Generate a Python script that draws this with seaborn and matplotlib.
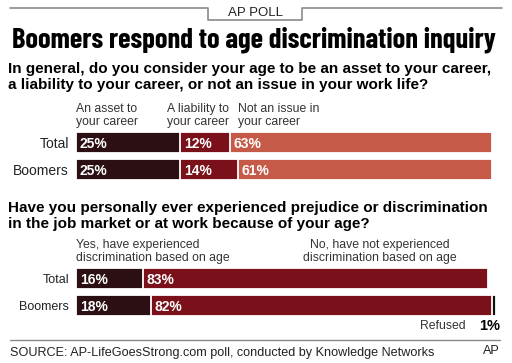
import matplotlib
matplotlib.use("Agg")
import matplotlib.pyplot as plt
from matplotlib.lines import Line2D
import seaborn as sns
import pandas as pd
import numpy as np

# ---------------- data ----------------
groups = ["Total", "Boomers"]

q1_question = ("In general, do you consider your age to be an asset to your career,\n"
               "a liability to your career, or not an issue in your work life?")
q1_labels = ["An asset to\nyour career", "A liability to\nyour career", "Not an issue in\nyour career"]
q1_asset = [25, 25]
q1_liability = [12, 14]
q1_notissue = [63, 61]

q2_question = ("Have you personally ever experienced prejudice or discrimination\n"
               "in the job market or at work because of your age?")
q2_labels = ["Yes, have experienced\ndiscrimination based on age",
             "No, have not experienced\ndiscrimination based on age"]
q2_yes = [16, 18]
q2_no = [83, 82]
q2_refused = [0, 1]

title = "Boomers respond to age discrimination inquiry"
kicker = "AP POLL"
source = "SOURCE: AP-LifeGoesStrong.com poll, conducted by Knowledge Networks"
credit = "AP"

# ---------------- style ----------------
sns.set_theme(style="white")
plt.rcParams["font.family"] = ["Liberation Sans", "DejaVu Sans"]

W, H = 512, 363
DPI = 100
fig = plt.figure(figsize=(W / DPI, H / DPI), dpi=DPI)
fig.patch.set_facecolor("white")

C_DARK = "#2b0f12"
C_MID = "#7a111a"
C_LIGHT = "#c65a48"
C_TEXT = "#222222"
C_GRAY = "#8a8a8a"


def fx(x):
    return x / W


def fy(y):
    return 1 - y / H


def text(x, y, s, **kw):
    return fig.text(fx(x), fy(y), s, **kw)


PX_PER = 4.16
XMAX = 101


def make_axes(y_top, y_bottom):
    left = 76
    width = XMAX * PX_PER
    return fig.add_axes([fx(left), fy(y_bottom), width / W, (y_bottom - y_top) / H])


def stacked(ax, segs, colors, label_fs, tick_fs, show_pct):
    segs = np.array(segs, dtype=float)
    cum = np.cumsum(segs, axis=0)
    for i in reversed(range(len(segs))):
        df = pd.DataFrame({"group": groups, "value": cum[i], "seg": segs[i]})
        df = df[df["seg"] > 0]
        sns.barplot(data=df, x="value", y="group", order=groups, orient="h",
                    color=colors[i], saturation=1, width=0.78,
                    edgecolor="white", linewidth=1.3, ax=ax)
    starts = cum - segs
    for i in range(len(segs)):
        if not show_pct[i]:
            continue
        for j in range(len(groups)):
            if segs[i][j] > 0:
                ax.text(starts[i][j] + 0.9, j, f"{int(segs[i][j])}%", color="white",
                        fontsize=label_fs, fontweight="bold", va="center_baseline", ha="left")
    ax.set_xlim(0, XMAX)
    ax.set_ylim(1.5, -0.5)
    ax.set_xlabel("")
    ax.set_ylabel("")
    ax.set_xticks([])
    for sp in ax.spines.values():
        sp.set_visible(False)
    ax.tick_params(axis="y", length=0, pad=5, labelsize=tick_fs, labelcolor=C_TEXT)
    ax.set_facecolor("none")


# ---------------- header ----------------
fig.add_artist(Line2D([fx(10), fx(208), fx(208), fx(302), fx(302), fx(502)],
                      [fy(8), fy(8), fy(20), fy(20), fy(8), fy(8)],
                      color=C_GRAY, lw=1.2))
text(255, 13, kicker, ha="center", va="center", fontsize=9.5, color=C_TEXT)

t = text(254, 40, title, ha="center", va="center", color="black",
         fontsize=20, fontweight="bold",
         family=["Barlow Condensed", "Archivo Narrow", "DejaVu Sans"])
# fit the title to the reference width (12 .. 496 px)
fig.canvas.draw()
bb = t.get_window_extent(renderer=fig.canvas.get_renderer())
t.set_fontsize(20 * 484.0 / bb.width)

# ---------------- question 1 ----------------
text(8, 77, q1_question, ha="left", va="center", fontsize=11, fontweight="bold",
     color="black", linespacing=1.14)
for x, lab in zip([76, 167, 238], q1_labels):
    text(x, 115.5, lab, ha="left", va="center", fontsize=8.8, color="#333333", linespacing=1.1)

ax1 = make_axes(129, 183)
stacked(ax1, [q1_asset, q1_liability, q1_notissue], [C_DARK, C_MID, C_LIGHT],
        label_fs=10, tick_fs=10, show_pct=[True, True, True])

# ---------------- question 2 ----------------
text(8, 216, q2_question, ha="left", va="center", fontsize=11, fontweight="bold",
     color="black", linespacing=1.14)
text(76, 251.5, q2_labels[0], ha="left", va="center", fontsize=8.8, color="#333333", linespacing=1.1)
text(380, 251.5, q2_labels[1], ha="center", va="center", fontsize=8.8, color="#333333",
     linespacing=1.1, multialignment="center")

ax2 = make_axes(264.5, 319.5)
stacked(ax2, [q2_yes, q2_no, q2_refused], [C_DARK, C_MID, "#111111"],
        label_fs=10, tick_fs=9, show_pct=[True, True, False])

text(466, 326, "Refused", ha="right", va="center", fontsize=8.8, color="#333333")
text(500, 326, f"{q2_refused[1]}%", ha="right", va="center", fontsize=10.5,
     fontweight="bold", color="black")

# ---------------- footer ----------------
fig.add_artist(Line2D([fx(10), fx(500)], [fy(340), fy(340)], color=C_GRAY, lw=1.0))
text(10, 353, source, ha="left", va="center", fontsize=9.1, color=C_TEXT)
text(500, 351, credit, ha="right", va="center", fontsize=9.1, color=C_TEXT)

fig.savefig("out.png", dpi=DPI, facecolor="white")
